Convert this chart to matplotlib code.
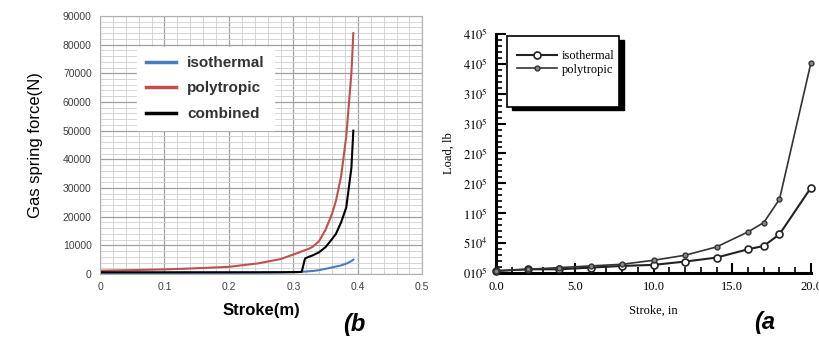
import matplotlib.pyplot as plt
from matplotlib.ticker import MultipleLocator, FixedLocator, FixedFormatter, FormatStrFormatter
from matplotlib.patches import Rectangle

# (b) left panel data
stroke_m = [0, 0.05, 0.1, 0.15, 0.2, 0.245, 0.28, 0.297, 0.31, 0.313, 0.318, 0.324, 0.33, 0.34, 0.35, 0.36, 0.366, 0.374, 0.382, 0.39, 0.393]
isothermal_n = [300, 320, 350, 380, 420, 480, 560, 620, 700, 750, 850, 950, 1050, 1350, 1800, 2300, 2600, 3000, 3600, 4500, 5000]
polytropic_n = [1150, 1350, 1600, 2000, 2500, 3700, 5200, 6550, 7600, 7900, 8300, 8800, 9500, 11500, 15500, 21000, 25500, 34000, 48000, 70000, 84000]
combined_n = [600, 600, 600, 600, 600, 600, 620, 650, 700, 800, 5400, 6000, 6500, 7600, 9400, 12200, 14000, 18000, 23200, 37000, 50000]

# (a) right panel data
stroke_in = [0, 2, 4, 6, 8, 10, 12, 14, 16, 17, 18, 20]
isothermal_lb = [3300, 6100, 6100, 8900, 11700, 13500, 19000, 25700, 39600, 45200, 64700, 142800]
polytropic_lb = [3300, 6100, 8900, 11700, 14500, 21200, 29600, 43500, 68700, 84300, 123300, 352000]
load_ticks = [0, 50000, 100000, 150000, 200000, 250000, 300000, 350000, 400000]
load_labels = [r'$010^5$', r'$510^4$', r'$110^5$', r'$210^5$', r'$210^5$',
               r'$310^5$', r'$310^5$', r'$410^5$', r'$410^5$']

plt.rcParams['mathtext.fontset'] = 'stix'
fig = plt.figure(figsize=(8.2, 3.54), dpi=100)

# ---- left panel (b)
ax = fig.add_axes([0.122, 0.226, 0.393, 0.729])
ax.plot(stroke_m, isothermal_n, color='#4a7ebb', lw=1.5, label='isothermal')
ax.plot(stroke_m, polytropic_n, color='#c0504d', lw=1.5, label='polytropic')
ax.plot(stroke_m, combined_n, color='black', lw=1.5, label='combined')
ax.set_xlim(0, 0.5)
ax.set_ylim(0, 90000)
ax.xaxis.set_major_locator(MultipleLocator(0.1))
ax.xaxis.set_minor_locator(MultipleLocator(0.02))
ax.xaxis.set_major_formatter(FormatStrFormatter('%g'))
ax.yaxis.set_major_locator(MultipleLocator(10000))
ax.yaxis.set_minor_locator(MultipleLocator(2000))
ax.grid(which='major', color='#a0a0a0', lw=0.9)
ax.grid(which='minor', color='#cfcfcf', lw=0.6)
ax.set_axisbelow(True)
ax.tick_params(which='both', length=0, labelsize=7.5, labelcolor='#404040', pad=6)
for lab in ax.get_xticklabels() + ax.get_yticklabels():
    lab.set_family('Liberation Sans')
for s in ax.spines.values():
    s.set_color('#b0b0b0')
ax.set_xlabel('Stroke(m)', fontsize=12, fontweight='bold', family='Liberation Sans', labelpad=8)
ax.set_ylabel('Gas spring force(N)', fontsize=12, family='Liberation Sans', labelpad=14)
leg = ax.legend(loc='upper left', bbox_to_anchor=(0.09, 0.91), frameon=True, fancybox=False,
                edgecolor='white', framealpha=1, handlelength=2.0, handletextpad=0.7, borderpad=0.6,
                labelspacing=0.75, prop={'family': 'Liberation Sans', 'weight': 'bold', 'size': 11})
for line in leg.get_lines():
    line.set_linewidth(2.5)
for t in leg.get_texts():
    t.set_color('#333333')
fig.text(0.418, 0.065, '(b', fontsize=17, fontweight='bold', style='italic', family='Liberation Sans')

# ---- right panel (a)
ax2 = fig.add_axes([0.605, 0.229, 0.384, 0.675])
ax2.plot(stroke_in, isothermal_lb, color='#222222', lw=1.5, marker='o', ms=5,
         mfc='white', mec='#222222', mew=1.2, label='isothermal', clip_on=False, zorder=3)
ax2.plot(stroke_in, polytropic_lb, color='#333333', lw=1.2, marker='o', ms=3.5,
         mfc='#888888', mec='#333333', mew=1.0, label='polytropic', clip_on=False, zorder=3)
ax2.set_xlim(0, 20)
ax2.set_ylim(0, 400000)
ax2.xaxis.set_major_locator(MultipleLocator(5))
ax2.xaxis.set_minor_locator(MultipleLocator(1))
ax2.xaxis.set_major_formatter(FormatStrFormatter('%.1f'))
ax2.yaxis.set_major_locator(FixedLocator(load_ticks))
ax2.yaxis.set_major_formatter(FixedFormatter(load_labels))
ax2.yaxis.set_minor_locator(MultipleLocator(10000))
ax2.spines['top'].set_visible(False)
ax2.spines['right'].set_visible(False)
ax2.spines['left'].set_linewidth(2.2)
ax2.spines['bottom'].set_linewidth(2.2)
ax2.tick_params(which='major', direction='in', length=7, width=1.5, labelsize=9, pad=6)
ax2.tick_params(which='minor', direction='in', length=4, width=1.2)
for lab in ax2.get_xticklabels():
    lab.set_family('Liberation Serif')
ax2.set_xlabel('Stroke, in', fontsize=9, family='Liberation Serif', labelpad=8)
ax2.set_ylabel('Load, lb', fontsize=9, family='Liberation Serif', labelpad=6)

# legend frame with a solid drop shadow, entries sit at the top
shadow = Rectangle((0.05, 0.68), 0.355, 0.295, transform=ax2.transAxes, facecolor='black',
                   edgecolor='black', zorder=4)
frame = Rectangle((0.035, 0.695), 0.355, 0.295, transform=ax2.transAxes, facecolor='white',
                  edgecolor='black', lw=1.2, zorder=5)
ax2.add_patch(shadow)
ax2.add_patch(frame)
leg2 = ax2.legend(loc='upper left', bbox_to_anchor=(0.035, 0.975), frameon=False, handlelength=3.2,
                  handletextpad=0.4, borderpad=0.3, labelspacing=0.15,
                  prop={'family': 'Liberation Serif', 'size': 9})
leg2.set_zorder(6)
fig.text(0.92, 0.07, '(a', fontsize=17, fontweight='bold', style='italic', family='Liberation Sans')

fig.savefig('out.png', dpi=100)
